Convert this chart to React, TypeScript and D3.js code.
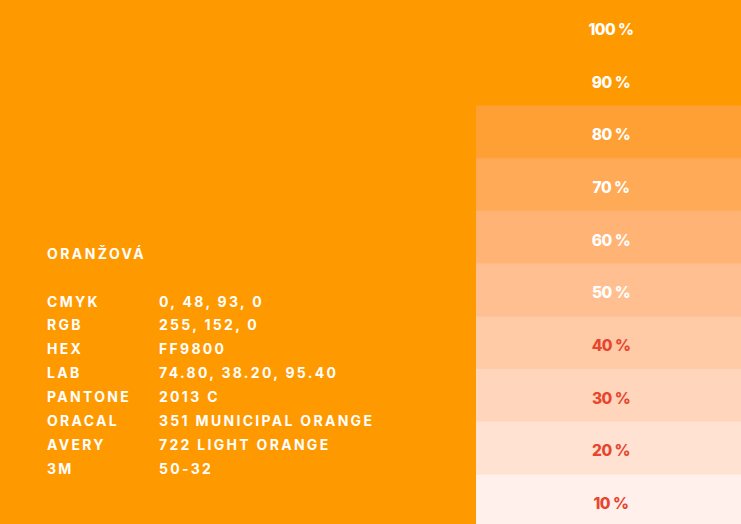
import React from 'react';
import * as d3 from 'd3';

const W = 741;
const H = 524;

// tint steps of the swatch column
const tintLabels = ['100 %', '90 %', '80 %', '70 %', '60 %', '50 %', '40 %', '30 %', '20 %', '10 %'];
const tintColors = ['#FF9900', '#FF9900', '#FFA035', '#FFAA57', '#FFB476', '#FFBF90', '#FFCAA6', '#FFD5BB', '#FFE2D2', '#FFF0EB'];
const tintTextColors = ['#FFFFFF', '#FFFFFF', '#FFFFFF', '#FFFFFF', '#FFFFFF', '#FFFFFF', '#E8452F', '#E8452F', '#E8452F', '#E8452F'];

// colour spec table
const colorName = 'ORANŽOVÁ';
const specKeys = ['CMYK', 'RGB', 'HEX', 'LAB', 'PANTONE', 'ORACAL', 'AVERY', '3M'];
const specValues = ['0, 48, 93, 0', '255, 152, 0', 'FF9800', '74.80, 38.20, 95.40', '2013 C', '351 MUNICIPAL ORANGE', '722 LIGHT ORANGE', '50-32'];

const font = 'Inter, "Noto Sans", sans-serif';

export default function App()
{
	const y = d3.scaleBand<string>().domain(tintLabels).range([0, 527]).padding(0);
	const rowY = d3.scalePoint<string>().domain(specKeys).range([306.5, 474]);

	return (
		<svg width={W} height={H} style={{ position: 'absolute', left: 0, top: 0 }}>
			<rect x={0} y={0} width={W} height={H} fill="#FF9900" />

			{tintLabels.map((t, i) => (
				<g key={t}>
					<rect x={476} y={y(t)} width={W - 476} height={y.bandwidth() + 0.5} fill={tintColors[i]} />
					<text x={611} y={(y(t) as number) + y.bandwidth() / 2 + 8.5} textAnchor="middle"
						fontFamily={font} fontWeight={800} fontSize={15.5} letterSpacing={-0.5} fill={tintTextColors[i]}>
						{t}
					</text>
				</g>
			))}

			<text x={47} y={259} fontFamily={font} fontWeight={700} fontSize={14} letterSpacing={2.4} fill="#fff">
				{colorName}
			</text>

			{specKeys.map((k, i) => (
				<g key={k}>
					<text x={47} y={rowY(k)} fontFamily={font} fontWeight={700} fontSize={14} letterSpacing={2.3} fill="#fff">{k}</text>
					<text x={159} y={rowY(k)} fontFamily={font} fontWeight={700} fontSize={14} letterSpacing={2.3} fill="#fff">{specValues[i]}</text>
				</g>
			))}
		</svg>
	);
}
